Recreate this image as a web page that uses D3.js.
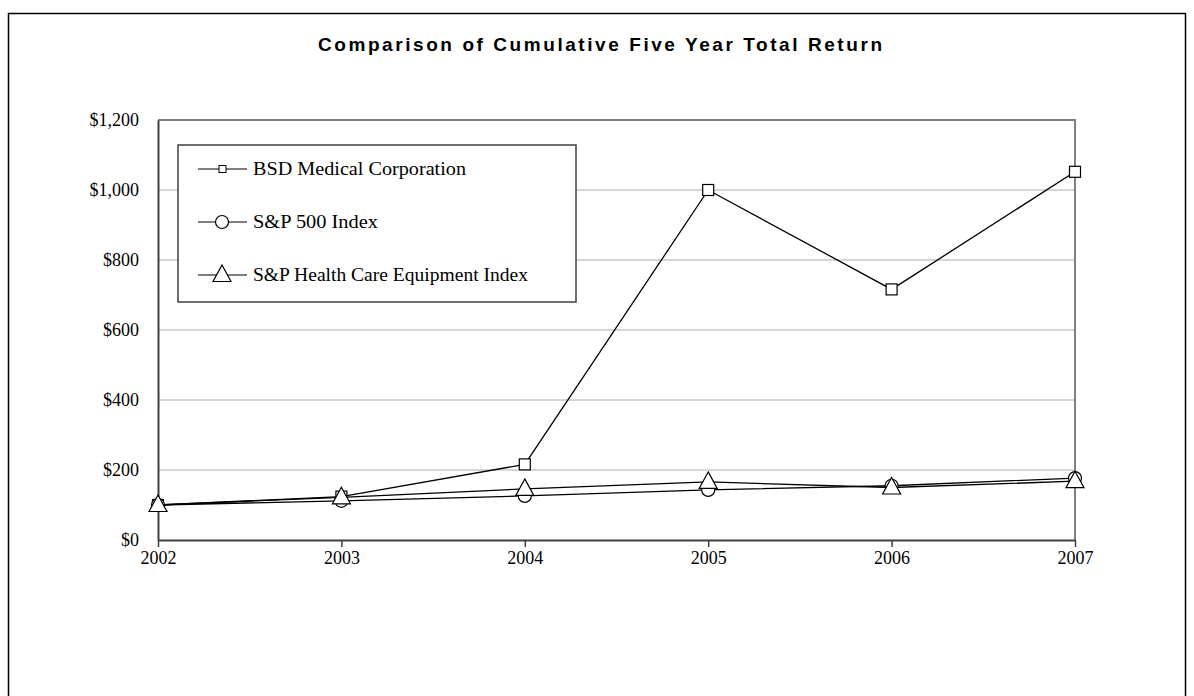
<!DOCTYPE html>
<html>
<head>
<meta charset="utf-8">
<script src="https://cdn.jsdelivr.net/npm/d3@7"></script>
<style>
  body { margin: 0; background: #fff; }
  svg { display: block; }
</style>
</head>
<body>
<div id="chart"></div>
<script>
// #### data
const years = ['2002', '2003', '2004', '2005', '2006', '2007'];
const bsdValues = [100, 124, 216, 1000, 716, 1052];
const spValues = [100, 112, 126, 143, 155, 177];
const hcValues = [100, 122, 146, 166, 150, 168];
const yTicks = [0, 200, 400, 600, 800, 1000, 1200];
const seriesNames = ['BSD Medical Corporation', 'S&P 500 Index', 'S&P Health Care Equipment Index'];
const chartTitle = 'Comparison of Cumulative Five Year Total Return';

const size = { width: 1194, height: 696 };
const plot = { left: 158, right: 1075, top: 120, bottom: 540 };

const svg = d3.select('#chart')
  .append('svg')
  .attr('width', size.width)
  .attr('height', size.height);

// outer frame (bottom edge runs off the page)
svg.append('rect')
  .attr('x', 8.5).attr('y', 13.5)
  .attr('width', 1177).attr('height', 700)
  .attr('fill', 'none')
  .attr('stroke', '#000')
  .attr('stroke-width', 1.5);

svg.append('text')
  .attr('x', 600)
  .attr('y', 51)
  .attr('text-anchor', 'middle')
  .attr('font-family', 'Liberation Sans, Arial, sans-serif')
  .attr('font-weight', 'bold')
  .attr('font-size', '19px')
  .attr('textLength', 564)
  .attr('lengthAdjust', 'spacing')
  .text(chartTitle);

const x = d3.scalePoint().domain(years).range([plot.left, plot.right]);
const y = d3.scaleLinear().domain([0, 1200]).range([plot.bottom, plot.top]);

// gridlines
svg.append('g')
  .selectAll('line')
  .data(yTicks.filter(d => d > 0 && d < 1200))
  .enter().append('line')
  .attr('x1', plot.left).attr('x2', plot.right)
  .attr('y1', d => y(d)).attr('y2', d => y(d))
  .attr('stroke', '#c8c8c8')
  .attr('stroke-width', 1.5);

// plot border top + right
svg.append('path')
  .attr('d', `M${plot.left},${y(1200)}H${plot.right}V${plot.bottom}`)
  .attr('fill', 'none')
  .attr('stroke', '#808080')
  .attr('stroke-width', 2);

// y axis
const yAxis = svg.append('g')
  .attr('transform', `translate(${plot.left},0)`)
  .call(d3.axisLeft(y).tickValues(yTicks).tickSize(0).tickPadding(19).tickFormat(d => '$' + d3.format(',')(d)));
yAxis.select('.domain').attr('stroke', '#404040').attr('stroke-width', 2);
yAxis.selectAll('text')
  .attr('font-family', 'Liberation Serif, Times New Roman, serif')
  .attr('font-size', '18px')
  .attr('fill', '#000');

// x axis
const xAxis = svg.append('g')
  .attr('transform', `translate(0,${plot.bottom})`)
  .call(d3.axisBottom(x).tickSize(7).tickSizeOuter(0).tickPadding(4));
xAxis.select('.domain').attr('stroke', '#404040').attr('stroke-width', 2);
xAxis.selectAll('.tick line').attr('stroke', '#404040').attr('stroke-width', 1.5);
xAxis.selectAll('text')
  .attr('font-family', 'Liberation Serif, Times New Roman, serif')
  .attr('font-size', '18px')
  .attr('fill', '#000');

// #### series
const line = d3.line().x((d, i) => x(years[i])).y(d => y(d));

const series = [
  { name: seriesNames[0], values: bsdValues, marker: 'square' },
  { name: seriesNames[1], values: spValues, marker: 'circle' },
  { name: seriesNames[2], values: hcValues, marker: 'triangle' },
];

const drawMarker = (g, type, cx, cy) => {
  if (type === 'square') {
    g.append('rect')
      .attr('x', cx - 5.5).attr('y', cy - 5.5)
      .attr('width', 11).attr('height', 11)
      .attr('fill', '#fff').attr('stroke', '#000').attr('stroke-width', 1.2);
  } else if (type === 'circle') {
    g.append('circle')
      .attr('cx', cx).attr('cy', cy).attr('r', 6.5)
      .attr('fill', '#fff').attr('stroke', '#000').attr('stroke-width', 1.2);
  } else {
    g.append('path')
      .attr('d', `M${cx},${cy - 10}L${cx + 9},${cy + 6.5}L${cx - 9},${cy + 6.5}Z`)
      .attr('fill', '#fff').attr('stroke', '#000').attr('stroke-width', 1.2);
  }
};

series.forEach(s => {
  svg.append('path')
    .attr('d', line(s.values))
    .attr('fill', 'none')
    .attr('stroke', '#000')
    .attr('stroke-width', 1.3);
});
series.forEach(s => {
  const g = svg.append('g');
  s.values.forEach((v, i) => drawMarker(g, s.marker, x(years[i]), y(v)));
});

// #### legend
const legend = svg.append('g');
legend.append('rect')
  .attr('x', 178).attr('y', 145)
  .attr('width', 398).attr('height', 157)
  .attr('fill', '#fff')
  .attr('stroke', '#404040')
  .attr('stroke-width', 1.5);

const legendRows = [169, 222, 275];
const legendWidths = [213, 125, 275];
series.forEach((s, i) => {
  const ly = legendRows[i];
  const row = legend.append('g');
  row.append('line')
    .attr('x1', 198).attr('x2', 247)
    .attr('y1', ly).attr('y2', ly)
    .attr('stroke', '#000').attr('stroke-width', 1.2);
  if (s.marker === 'square') {
    row.append('rect')
      .attr('x', 219).attr('y', ly - 3.5)
      .attr('width', 7).attr('height', 7)
      .attr('fill', '#fff').attr('stroke', '#000').attr('stroke-width', 1);
  } else {
    drawMarker(row, s.marker, 222, ly);
  }
  row.append('text')
    .attr('x', 253)
    .attr('y', ly)
    .attr('dy', '0.35em')
    .attr('font-family', 'Liberation Serif, Times New Roman, serif')
    .attr('font-size', '18px')
    .attr('textLength', legendWidths[i])
    .attr('lengthAdjust', 'spacingAndGlyphs')
    .text(s.name);
});
</script>
</body>
</html>
